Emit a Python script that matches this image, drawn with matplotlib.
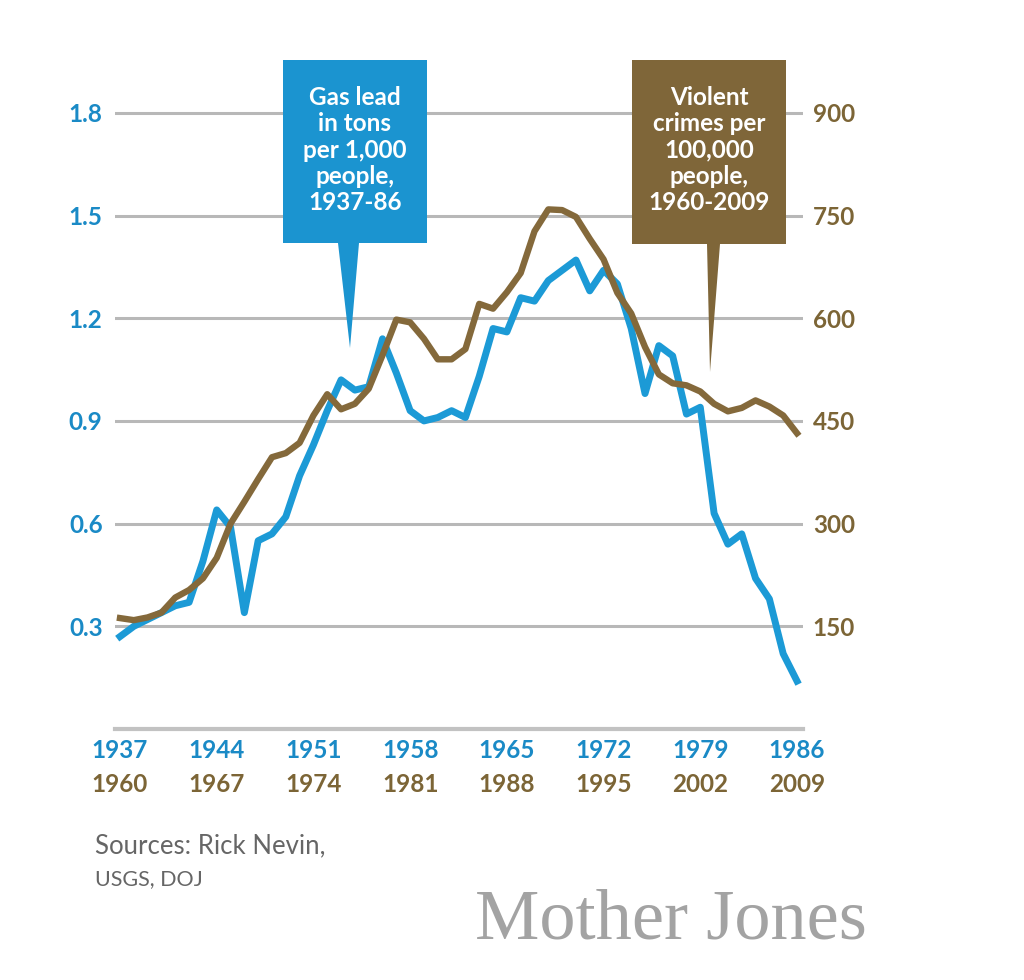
import matplotlib
matplotlib.use("Agg")
import matplotlib.pyplot as plt
from matplotlib.patches import Polygon

# Gas lead, tons per 1,000 people (left axis)
lead_years = list(range(1937, 1987))
lead = [0.27, 0.30, 0.32, 0.34, 0.36, 0.37, 0.49, 0.64, 0.59, 0.34,
        0.55, 0.57, 0.62, 0.74, 0.83, 0.93, 1.02, 0.99, 1.00, 1.14,
        1.04, 0.93, 0.90, 0.91, 0.93, 0.91, 1.03, 1.17, 1.16, 1.26,
        1.25, 1.31, 1.34, 1.37, 1.28, 1.34, 1.30, 1.17, 0.98, 1.12,
        1.09, 0.92, 0.94, 0.63, 0.54, 0.57, 0.44, 0.38, 0.22, 0.14]

# Violent crimes per 100,000 people (right axis)
crime_years = list(range(1960, 2010))
crime = [162, 159, 163, 170, 192, 203, 220, 250, 300, 332,
         365, 397, 403, 418, 458, 489, 467, 475, 497, 546,
         598, 594, 570, 540, 540, 555, 621, 614, 638, 666,
         727, 759, 758, 748, 716, 686, 637, 607, 558, 518,
         505, 502, 493, 475, 464, 469, 480, 471, 458, 432]

lead_ticks = [0.3, 0.6, 0.9, 1.2, 1.5, 1.8]
crime_ticks = [150, 300, 450, 600, 750, 900]
lead_xticks = [1937, 1944, 1951, 1958, 1965, 1972, 1979, 1986]
crime_xticks = [1960, 1967, 1974, 1981, 1988, 1995, 2002, 2009]

BLUE = "#1c9ad6"
BLUE_TXT = "#1a8ac6"
BROWN = "#84693b"
BROWN_TXT = "#7c6536"
GRID = "#b8b8b8"
FONT = ["Lato", "DejaVu Sans"]

W, H = 1024, 980
fig = plt.figure(figsize=(W / 100, H / 100), dpi=100)
fig.patch.set_facecolor("white")


def fx(x):
    return x / W


def fy(y):
    return 1 - y / H


rect = [fx(115), fy(729), 688 / W, 1.9 * 342.3 / H]
ax = fig.add_axes(rect)
ax2 = fig.add_axes(rect)
ax2.patch.set_visible(False)

ax.set_xlim(1936.638, 1986.434)
ax.set_ylim(0, 1.9)
ax2.set_xlim(1936.638 + 23, 1986.434 + 23)
ax2.set_ylim(0, 950)

for a in (ax, ax2):
    for s in a.spines.values():
        s.set_visible(False)

ax.set_yticks(lead_ticks)
ax.set_yticklabels([f"{v:.1f}" for v in lead_ticks])
ax.yaxis.grid(True, color=GRID, lw=2.2)
ax.set_axisbelow(True)
ax.axhline(0, color="#c2c2c2", lw=3, clip_on=False)
ax.set_xticks(lead_xticks)
ax.set_xticklabels([str(v) for v in lead_xticks])
ax.tick_params(axis="y", length=0, pad=9, labelcolor=BLUE_TXT, labelsize=17.5)
ax.tick_params(axis="x", length=0, pad=7, labelcolor=BLUE_TXT, labelsize=17.5)

ax2.yaxis.tick_right()
ax2.set_yticks(crime_ticks)
ax2.set_yticklabels([str(v) for v in crime_ticks])
ax2.set_xticks(crime_xticks)
ax2.set_xticklabels([str(v) for v in crime_xticks])
ax2.tick_params(axis="y", length=0, pad=7, labelcolor=BROWN_TXT, labelsize=17.5)
ax2.tick_params(axis="x", length=0, pad=32, labelcolor=BROWN_TXT, labelsize=17.5)

for lab in ax.get_xticklabels() + ax.get_yticklabels() + ax2.get_xticklabels() + ax2.get_yticklabels():
    lab.set_family(FONT)
    lab.set_weight("bold")

ax.plot(lead_years, lead, color=BLUE, lw=5, solid_joinstyle="round", zorder=3)
ax2.plot(crime_years, crime, color=BROWN, lw=4.6, solid_joinstyle="round", zorder=3)

# callout boxes with pointers (figure pixel layout)
blue_box = [(283, 60), (427, 60), (427, 243), (359, 243), (350, 348), (338, 243), (283, 243)]
brown_box = [(632, 60), (786, 60), (786, 244), (720, 244), (710, 372), (707, 244), (632, 244)]
for pts, col in ((blue_box, "#1b94d0"), (brown_box, "#7f6639")):
    fig.patches.append(Polygon([(fx(x), fy(y)) for x, y in pts], closed=True,
                               transform=fig.transFigure, facecolor=col,
                               edgecolor="none", zorder=10))

fig.text(fx(355), fy(150), "Gas lead\nin tons\nper 1,000\npeople,\n1937-86",
         ha="center", va="center", color="white", fontsize=17.5, weight="bold",
         linespacing=1.18, family=FONT, zorder=11)
fig.text(fx(709), fy(150), "Violent\ncrimes per\n100,000\npeople,\n1960-2009",
         ha="center", va="center", color="white", fontsize=17.5, weight="bold",
         linespacing=1.18, family=FONT, zorder=11)

fig.text(fx(95), fy(853), "Sources: Rick Nevin,", va="baseline", ha="left",
         color="#666666", fontsize=18.5, family=FONT)
fig.text(fx(95), fy(885), "USGS, DOJ", va="baseline", ha="left",
         color="#666666", fontsize=15.5, family=FONT)
fig.text(fx(475), fy(938), "Mother Jones", va="baseline", ha="left",
         color="#a3a3a3", fontsize=52, family=["Liberation Serif", "DejaVu Serif"])

fig.savefig("out.png", dpi=100, facecolor="white")
